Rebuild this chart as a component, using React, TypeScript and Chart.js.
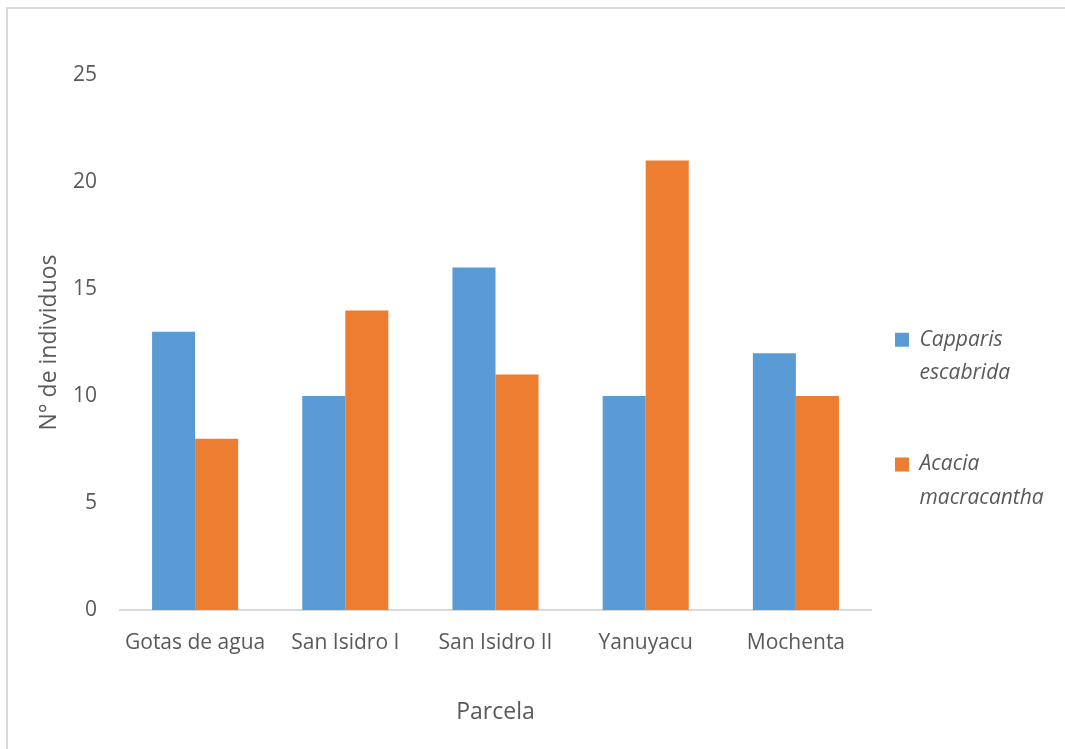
import React, { useEffect, useRef } from "react";
import { Chart, registerables } from "chart.js";

Chart.register(...registerables);

const categories = ["Gotas de agua", "San Isidro I", "San Isidro II", "Yanuyacu", "Mochenta"];
const seriesNames = ["Capparis escabrida", "Acacia macracantha"];
const capparisValues = [13, 10, 16, 10, 12];
const acaciaValues = [8, 14, 11, 21, 10];
const yTicks = [0, 5, 10, 15, 20, 25];
const yTitle = "N° de individuos";
const xTitle = "Parcela";

const FONT = "'Open Sans', sans-serif";
const TEXT = "#595959";
const TICK_SIZE = 21;
const TITLE_SIZE = 23;
const LEG_SIZE = 21;
const LEG_PAD = 24;
const CANVAS_W = 1057;
const CANVAS_H = 800;

export default function App() {
  const ref = useRef<HTMLCanvasElement>(null);

  useEffect(() => {
    const canvas = ref.current;
    if (!canvas) return;
    const mctx = document.createElement("canvas").getContext("2d")!;
    mctx.font = `italic ${LEG_SIZE}px ${FONT}`;
    const longest = seriesNames
      .flatMap((s) => s.split(" "))
      .reduce((a, b) => (a.length > b.length ? a : b));
    const tw = mctx.measureText(longest).width;
    const legendWidth = LEG_PAD + 14 + LEG_SIZE / 2 + tw + 10;
    const padRight = Math.max(0, CANVAS_W - 863 - legendWidth);

    const chart = new Chart(canvas, {
      type: "bar",
      data: {
        labels: categories,
        datasets: [
          {
            label: seriesNames[0],
            data: capparisValues,
            backgroundColor: "#5B9BD5",
            borderWidth: 0,
            categoryPercentage: 0.573,
            barPercentage: 1,
          },
          {
            label: seriesNames[1],
            data: acaciaValues,
            backgroundColor: "#ED7D31",
            borderWidth: 0,
            categoryPercentage: 0.573,
            barPercentage: 1,
          },
        ],
      },
      options: {
        animation: false,
        responsive: false,
        devicePixelRatio: 1,
        layout: { padding: { left: 0, top: 66, right: padRight, bottom: 0 } },
        plugins: {
          tooltip: { enabled: false },
          legend: {
            position: "right",
            align: "center",
            labels: {
              boxWidth: 14,
              boxHeight: 14,
              padding: LEG_PAD,
              color: TEXT,
              font: { family: FONT, size: LEG_SIZE, style: "italic", lineHeight: 1.6 },
              generateLabels: (c: any) => {
                const items = Chart.defaults.plugins.legend.labels.generateLabels(c);
                items.forEach((it: any, i: number) => {
                  it.text = [...seriesNames[i].split(" "), ""];
                  it.lineWidth = 0;
                  it.strokeStyle = "rgba(0,0,0,0)";
                });
                return items;
              },
            },
          },
        },
        scales: {
          x: {
            grid: { display: false, drawTicks: false },
            border: { display: true, color: "#D9D9D9", width: 2 },
            ticks: { color: TEXT, font: { family: FONT, size: TICK_SIZE }, padding: 20 },
            title: {
              display: true,
              text: xTitle,
              color: TEXT,
              font: { family: FONT, size: TITLE_SIZE },
              padding: { top: 0, bottom: 83 },
            },
            afterFit: (s: any) => {
              s.height = CANVAS_H - 601;
            },
          },
          y: {
            min: 0,
            max: 25,
            grid: { display: false, drawTicks: false },
            border: { display: false },
            ticks: {
              color: TEXT,
              font: { family: FONT, size: TICK_SIZE },
              padding: 23,
              stepSize: 5,
            },
            afterBuildTicks: (s: any) => {
              s.ticks = yTicks.map((v) => ({ value: v }));
            },
            title: {
              display: true,
              text: yTitle,
              color: TEXT,
              font: { family: FONT, size: TITLE_SIZE },
              padding: { top: 28, bottom: 0 },
            },
            afterFit: (s: any) => {
              s.width = 112;
            },
          },
        },
      },
    });
    return () => chart.destroy();
  }, []);

  return (
    <div
      style={{
        position: "fixed",
        left: 6,
        top: 7,
        width: 1080,
        height: 760,
        borderTop: "2px solid #D9D9D9",
        borderLeft: "2px solid #D9D9D9",
        overflow: "hidden",
        background: "#fff",
      }}
    >
      <canvas ref={ref} width={CANVAS_W} height={CANVAS_H} style={{ display: "block" }} />
    </div>
  );
}
